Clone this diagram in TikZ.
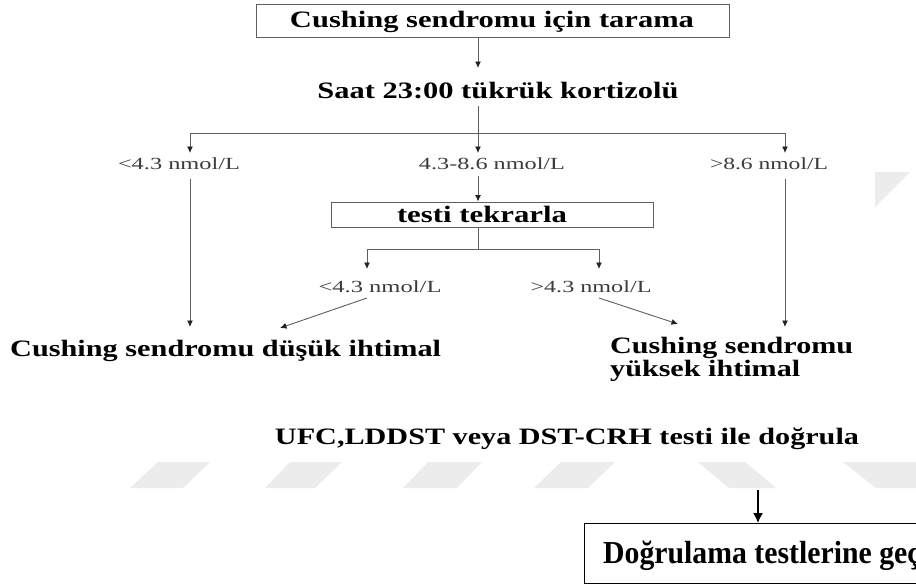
\documentclass[tikz,border=0pt]{standalone}
\usepackage{fontspec}
\setmainfont{Liberation Serif}
\usetikzlibrary{arrows.meta}
\newcommand{\fitw}[2]{\resizebox{#1}{\height}{#2}}
\definecolor{ln}{RGB}{95,95,95}
\definecolor{tip}{RGB}{35,35,35}
\definecolor{lbl}{RGB}{60,60,60}
\definecolor{wm}{RGB}{236,236,236}
\begin{document}
\begin{tikzpicture}[x=1pt,y=-1pt,
  conn/.style={draw=ln, line width=0.9pt},
  arr/.style={conn, -{Latex[length=6.5pt,width=6pt,fill=tip,color=tip]}},
  bigarr/.style={draw=black, line width=1.4pt, -{Latex[length=10pt,width=10pt]}},
  boxst/.style={draw=ln, line width=0.9pt, inner sep=0pt},
  bigbox/.style={draw=black, line width=1.1pt, inner sep=0pt},
  bold/.style={inner sep=0pt, font=\fontsize{23.5}{24}\selectfont\bfseries, text=black},
  small/.style={inner sep=0pt, font=\fontsize{17}{17}\selectfont, text=lbl},
  wmark/.style={fill=wm, draw=none}]
\useasboundingbox (0,0) rectangle (916,587);
\clip (0,0) rectangle (916,587);
\fill[white] (0,0) rectangle (916,587);
% watermark stripes
\fill[wmark] (130,488) -- (183,488) -- (210,462) -- (158,462) -- cycle;
\fill[wmark] (265,488) -- (315,488) -- (342,462) -- (290,462) -- cycle;
\fill[wmark] (403,488) -- (457,488) -- (482,462) -- (428,462) -- cycle;
\fill[wmark] (534,488) -- (588,488) -- (615,462) -- (561,462) -- cycle;
\fill[wmark] (698,462) -- (745,462) -- (776,488) -- (729,488) -- cycle;
\fill[wmark] (843,462) -- (920,462) -- (920,488) -- (876,488) -- cycle;
\fill[wmark] (875,172) -- (910,172) -- (875,207) -- cycle;
% boxes and texts
\node[boxst, minimum width=473pt, minimum height=33pt] (b1) at (492.5,20.5) {};
\node[bold, anchor=base] (b1t) at (492,27) {\fitw{404pt}{Cushing sendromu için tarama}};
\node[bold, anchor=base] (saat) at (498,98) {\fitw{361pt}{Saat 23:00 tükrük kortizolü}};
\node[small, anchor=base] (l1) at (179,169) {\fitw{122pt}{<4.3 nmol/L}};
\node[small, anchor=base] (l2) at (492,169) {\fitw{146pt}{4.3-8.6 nmol/L}};
\node[small, anchor=base] (l3) at (769,169) {\fitw{118pt}{>8.6 nmol/L}};
\node[boxst, minimum width=322pt, minimum height=25pt] (b2) at (492,214.5) {};
\node[bold, anchor=base] (b2t) at (482,222.5) {\fitw{170pt}{testi tekrarla}};
\node[small, anchor=base] (l4) at (380,292) {\fitw{123pt}{<4.3 nmol/L}};
\node[small, anchor=base] (l5) at (591,292) {\fitw{121pt}{>4.3 nmol/L}};
\node[bold, anchor=base west] (low) at (10,356) {\fitw{431pt}{Cushing sendromu düşük ihtimal}};
\node[bold, anchor=base west] (high) at (610,353) {\fitw{243pt}{Cushing sendromu}};
\node[bold, anchor=base west] (high2) at (610,376) {\fitw{190pt}{yüksek ihtimal}};
\node[bold, anchor=base] (ufc) at (567,444) {\fitw{584pt}{UFC,LDDST veya DST-CRH testi ile doğrula}};
\node[bigbox, anchor=north west, minimum width=400pt, minimum height=60pt] (b3) at (584,523) {};
\node[inner sep=0pt, anchor=base west, font=\fontsize{32}{32}\selectfont\bfseries] (b3t) at (603,563) {\scalebox{0.93}[1]{Doğrulama testlerine geç}};
% coordinates
\coordinate (c0) at (478,37);
\coordinate (c1) at (478,68);
\coordinate (c2) at (478,106);
\coordinate (j1) at (478,133);
\coordinate (a1) at (190,153);
\coordinate (a2) at (478,153);
\coordinate (a3) at (785,153);
\coordinate (s1) at (190,179);
\coordinate (e1) at (190,327);
\coordinate (s3) at (785,179);
\coordinate (e3) at (785,327);
\coordinate (s2) at (478,176);
\coordinate (c3) at (478,227);
\coordinate (j2) at (478,249);
\coordinate (a4) at (367,269);
\coordinate (a5) at (599,269);
\coordinate (d1) at (367,298);
\coordinate (d1e) at (280,328);
\coordinate (d2) at (599,298);
\coordinate (d2e) at (678,324);
\coordinate (u1) at (758,490);
% connectors
\draw[arr] (c0) -- (c1);
\draw[conn] (c2) -- (j1);
\draw[arr] (j1) -| (a1);
\draw[arr] (j1) -- (a2);
\draw[arr] (j1) -| (a3);
\draw[arr] (s1) -- (e1);
\draw[arr] (s3) -- (e3);
\draw[arr] (s2) -- (s2 |- b2.north);
\draw[conn] (c3) -- (j2);
\draw[arr] (j2) -| (a4);
\draw[arr] (j2) -| (a5);
\draw[arr] (d1) -- (d1e);
\draw[arr] (d2) -- (d2e);
\draw[bigarr] (u1) -- (u1 |- b3.north);
\end{tikzpicture}
\end{document}
